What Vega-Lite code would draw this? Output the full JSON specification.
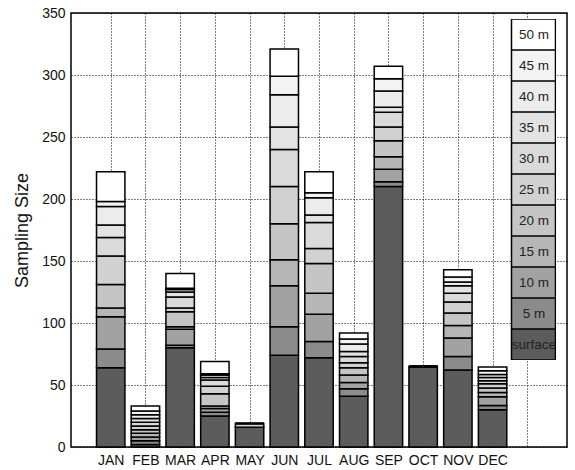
{
  "$schema": "https://vega.github.io/schema/vega-lite/v6.json",
  "width": 496,
  "height": 434,
  "autosize": {"type": "none"},
  "padding": {"left": 71, "top": 13, "right": 8, "bottom": 23},
  "config": {
    "font": "Liberation Sans",
    "view": {"stroke": "black", "strokeWidth": 1.5},
    "axis": {"domain": false, "ticks": false, "grid": true, "gridColor": "black", "gridDash": [1, 2], "gridWidth": 1, "gridOpacity": 1, "labelColor": "#111", "labelFontSize": 14, "zindex": 1}
  },
  "datasets": {
    "counts": [
      {"month":1,"depth":"surface","d":0,"n":64},{"month":1,"depth":"5 m","d":5,"n":15},{"month":1,"depth":"10 m","d":10,"n":26},{"month":1,"depth":"15 m","d":15,"n":7},{"month":1,"depth":"20 m","d":20,"n":19},{"month":1,"depth":"25 m","d":25,"n":23},{"month":1,"depth":"30 m","d":30,"n":15},{"month":1,"depth":"35 m","d":35,"n":10},{"month":1,"depth":"40 m","d":40,"n":15},{"month":1,"depth":"45 m","d":45,"n":4},{"month":1,"depth":"50 m","d":50,"n":24},
      {"month":2,"depth":"surface","d":0,"n":2},{"month":2,"depth":"5 m","d":5,"n":3},{"month":2,"depth":"10 m","d":10,"n":3},{"month":2,"depth":"15 m","d":15,"n":3},{"month":2,"depth":"20 m","d":20,"n":3},{"month":2,"depth":"25 m","d":25,"n":3},{"month":2,"depth":"30 m","d":30,"n":3},{"month":2,"depth":"35 m","d":35,"n":3},{"month":2,"depth":"40 m","d":40,"n":3},{"month":2,"depth":"45 m","d":45,"n":3},{"month":2,"depth":"50 m","d":50,"n":4},
      {"month":3,"depth":"surface","d":0,"n":80},{"month":3,"depth":"5 m","d":5,"n":2},{"month":3,"depth":"10 m","d":10,"n":13},{"month":3,"depth":"15 m","d":15,"n":2},{"month":3,"depth":"20 m","d":20,"n":12},{"month":3,"depth":"25 m","d":25,"n":3},{"month":3,"depth":"30 m","d":30,"n":9},{"month":3,"depth":"35 m","d":35,"n":4},{"month":3,"depth":"40 m","d":40,"n":2},{"month":3,"depth":"45 m","d":45,"n":1},{"month":3,"depth":"50 m","d":50,"n":12},
      {"month":4,"depth":"surface","d":0,"n":25},{"month":4,"depth":"5 m","d":5,"n":3},{"month":4,"depth":"10 m","d":10,"n":3},{"month":4,"depth":"15 m","d":15,"n":2},{"month":4,"depth":"20 m","d":20,"n":10},{"month":4,"depth":"25 m","d":25,"n":6},{"month":4,"depth":"30 m","d":30,"n":5},{"month":4,"depth":"35 m","d":35,"n":2},{"month":4,"depth":"40 m","d":40,"n":2},{"month":4,"depth":"45 m","d":45,"n":1},{"month":4,"depth":"50 m","d":50,"n":10},
      {"month":5,"depth":"surface","d":0,"n":16},{"month":5,"depth":"5 m","d":5,"n":0},{"month":5,"depth":"10 m","d":10,"n":0},{"month":5,"depth":"15 m","d":15,"n":0},{"month":5,"depth":"20 m","d":20,"n":0},{"month":5,"depth":"25 m","d":25,"n":3},{"month":5,"depth":"30 m","d":30,"n":0},{"month":5,"depth":"35 m","d":35,"n":0},{"month":5,"depth":"40 m","d":40,"n":0},{"month":5,"depth":"45 m","d":45,"n":0},{"month":5,"depth":"50 m","d":50,"n":0},
      {"month":6,"depth":"surface","d":0,"n":74},{"month":6,"depth":"5 m","d":5,"n":23},{"month":6,"depth":"10 m","d":10,"n":33},{"month":6,"depth":"15 m","d":15,"n":21},{"month":6,"depth":"20 m","d":20,"n":29},{"month":6,"depth":"25 m","d":25,"n":30},{"month":6,"depth":"30 m","d":30,"n":30},{"month":6,"depth":"35 m","d":35,"n":18},{"month":6,"depth":"40 m","d":40,"n":26},{"month":6,"depth":"45 m","d":45,"n":15},{"month":6,"depth":"50 m","d":50,"n":22},
      {"month":7,"depth":"surface","d":0,"n":72},{"month":7,"depth":"5 m","d":5,"n":13},{"month":7,"depth":"10 m","d":10,"n":22},{"month":7,"depth":"15 m","d":15,"n":17},{"month":7,"depth":"20 m","d":20,"n":24},{"month":7,"depth":"25 m","d":25,"n":12},{"month":7,"depth":"30 m","d":30,"n":21},{"month":7,"depth":"35 m","d":35,"n":6},{"month":7,"depth":"40 m","d":40,"n":14},{"month":7,"depth":"45 m","d":45,"n":4},{"month":7,"depth":"50 m","d":50,"n":17},
      {"month":8,"depth":"surface","d":0,"n":41},{"month":8,"depth":"5 m","d":5,"n":6},{"month":8,"depth":"10 m","d":10,"n":5},{"month":8,"depth":"15 m","d":15,"n":6},{"month":8,"depth":"20 m","d":20,"n":6},{"month":8,"depth":"25 m","d":25,"n":4},{"month":8,"depth":"30 m","d":30,"n":5},{"month":8,"depth":"35 m","d":35,"n":4},{"month":8,"depth":"40 m","d":40,"n":6},{"month":8,"depth":"45 m","d":45,"n":4},{"month":8,"depth":"50 m","d":50,"n":5},
      {"month":9,"depth":"surface","d":0,"n":210},{"month":9,"depth":"5 m","d":5,"n":4},{"month":9,"depth":"10 m","d":10,"n":10},{"month":9,"depth":"15 m","d":15,"n":10},{"month":9,"depth":"20 m","d":20,"n":13},{"month":9,"depth":"25 m","d":25,"n":11},{"month":9,"depth":"30 m","d":30,"n":12},{"month":9,"depth":"35 m","d":35,"n":4},{"month":9,"depth":"40 m","d":40,"n":13},{"month":9,"depth":"45 m","d":45,"n":10},{"month":9,"depth":"50 m","d":50,"n":10},
      {"month":10,"depth":"surface","d":0,"n":65},{"month":10,"depth":"5 m","d":5,"n":0},{"month":10,"depth":"10 m","d":10,"n":0},{"month":10,"depth":"15 m","d":15,"n":0},{"month":10,"depth":"20 m","d":20,"n":0},{"month":10,"depth":"25 m","d":25,"n":0},{"month":10,"depth":"30 m","d":30,"n":0},{"month":10,"depth":"35 m","d":35,"n":0},{"month":10,"depth":"40 m","d":40,"n":0},{"month":10,"depth":"45 m","d":45,"n":0},{"month":10,"depth":"50 m","d":50,"n":0},
      {"month":11,"depth":"surface","d":0,"n":62},{"month":11,"depth":"5 m","d":5,"n":11},{"month":11,"depth":"10 m","d":10,"n":15},{"month":11,"depth":"15 m","d":15,"n":10},{"month":11,"depth":"20 m","d":20,"n":10},{"month":11,"depth":"25 m","d":25,"n":9},{"month":11,"depth":"30 m","d":30,"n":7},{"month":11,"depth":"35 m","d":35,"n":6},{"month":11,"depth":"40 m","d":40,"n":3},{"month":11,"depth":"45 m","d":45,"n":4},{"month":11,"depth":"50 m","d":50,"n":6},
      {"month":12,"depth":"surface","d":0,"n":30},{"month":12,"depth":"5 m","d":5,"n":3.5},{"month":12,"depth":"10 m","d":10,"n":7},{"month":12,"depth":"15 m","d":15,"n":3.5},{"month":12,"depth":"20 m","d":20,"n":3.5},{"month":12,"depth":"25 m","d":25,"n":3.5},{"month":12,"depth":"30 m","d":30,"n":2.5},{"month":12,"depth":"35 m","d":35,"n":2.5},{"month":12,"depth":"40 m","d":40,"n":2.5},{"month":12,"depth":"45 m","d":45,"n":3},{"month":12,"depth":"50 m","d":50,"n":3}
    ]
  },
  "data": {"name": "counts"},
  "mark": {"type": "bar", "width": 28.4, "stroke": "black", "strokeWidth": 1.5, "fillOpacity": 1},
  "encoding": {
    "x": {
      "field": "month", "type": "quantitative",
      "scale": {"domain": [0, 14], "nice": false, "zero": false},
      "axis": {"title": null, "values": [1,2,3,4,5,6,7,8,9,10,11,12,13], "labelExpr": "['','JAN','FEB','MAR','APR','MAY','JUN','JUL','AUG','SEP','OCT','NOV','DEC',''][datum.value]", "labelOverlap": false, "labelFlush": false, "labelPadding": 6}
    },
    "y": {
      "field": "n", "type": "quantitative", "stack": "zero",
      "scale": {"domain": [0, 350], "nice": false},
      "axis": {"title": "Sampling Size", "values": [0,50,100,150,200,250,300,350], "titleFontSize": 18, "titleFontWeight": "normal", "titleColor": "#111", "titlePadding": 10, "labelPadding": 6}
    },
    "color": {
      "field": "depth", "type": "nominal",
      "scale": {
        "domain": ["50 m","45 m","40 m","35 m","30 m","25 m","20 m","15 m","10 m","5 m","surface"],
        "range": ["#ffffff","#f3f3f3","#ececec","#e3e3e3","#dadada","#d1d1d1","#c5c5c5","#b6b6b6","#a2a2a2","#8b8b8b","#5c5c5c"]
      },
      "legend": {
        "title": null, "orient": "none", "legendX": 434, "legendY": 6, "padding": 0,
        "symbolType": "M-0.8,-0.562H0.8V0.562H-0.8Z", "symbolSize": 3025, "clipHeight": 31, "rowPadding": 0,
        "symbolStrokeColor": "black", "symbolStrokeWidth": 1.5, "symbolOpacity": 1,
        "labelAlign": "center", "labelOffset": -28, "labelFontSize": 13.5, "labelColor": "#222"
      }
    },
    "order": {"field": "d", "type": "quantitative", "sort": "ascending"}
  }
}
